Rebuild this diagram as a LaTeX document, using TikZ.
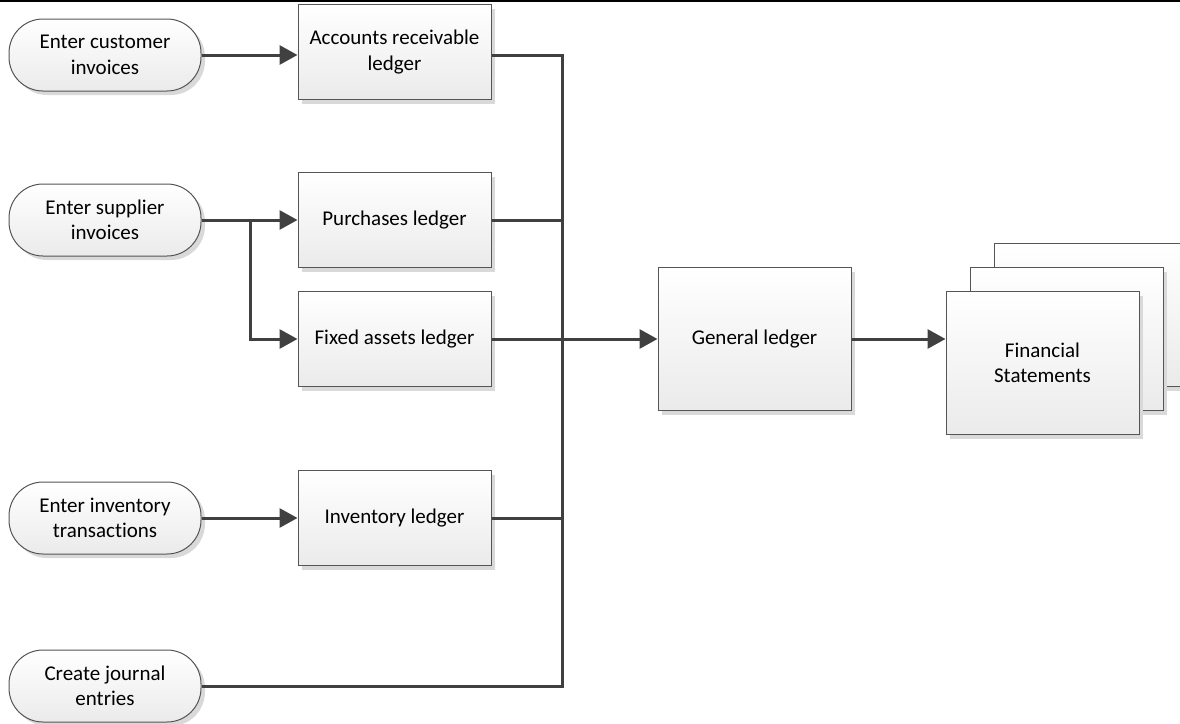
\documentclass[tikz,border=0pt]{standalone}
\usepackage{fontspec}
\setmainfont{Carlito}[Ligatures=NoCommon]
\usetikzlibrary{arrows.meta,shadows}
\definecolor{lc}{HTML}{404040}
\definecolor{bc}{HTML}{555555}
\tikzset{
  base/.style={draw=bc, line width=1pt, top color=white, bottom color=black!8,
    drop shadow={shadow xshift=4pt, shadow yshift=-4pt, fill=black!15, opacity=1},
    align=center, font=\fontsize{21}{25.5}\selectfont, inner sep=0pt},
  pill/.style={base, rounded corners=34pt, minimum width=192pt, minimum height=72pt},
  ledger/.style={base, minimum width=193pt, minimum height=95pt},
  big/.style={base, minimum width=193pt, minimum height=143pt},
  conn/.style={draw=lc, line width=3pt},
  arr/.style={conn, -{Triangle[length=18pt,width=19pt]}}
}
\begin{document}
\begin{tikzpicture}[x=1pt,y=1pt]
\useasboundingbox (0,0) rectangle (1180,-723);
\clip (0,0) rectangle (1180,-723);
\draw[black, line width=2pt] (0,-1) -- (1180,-1);

% pills
\node[pill] (t1) at (105,-55) {Enter customer\\invoices};
\node[pill] (t2) at (105,-220) {Enter supplier\\invoices};
\node[pill] (t3) at (105,-518) {Enter inventory\\transactions};
\node[pill] (t4) at (105,-686) {Create journal\\entries};

% ledgers
\node[ledger] (ar) at (394.5,-52) {Accounts receivable\\ledger};
\node[ledger] (pu) at (394.5,-220) {Purchases ledger};
\node[ledger] (fa) at (394.5,-339) {Fixed assets ledger};
\node[ledger] (inv) at (394.5,-518) {Inventory ledger};

% general ledger
\node[big] (gl) at (754.5,-339) {General ledger};

% financial statements stack
\node[big] (fs3) at (1090.5,-315) {};
\node[big] (fs2) at (1066.5,-339) {};
\node[big] (fs) at (1042.5,-363) {Financial\\Statements};

% bus
\coordinate (bt) at (562,-55);
\coordinate (bb) at (562,-686);
\coordinate (sj) at (250,-220);

\draw[arr] (t1.east) -- (t1.east -| ar.west);
\draw[arr] (t2.east) -- (pu.west);
\draw[arr] (sj) |- (fa.west);
\draw[arr] (t3.east) -- (inv.west);

\draw[conn] (ar.east |- bt) -- (bt) -- (bb) -- (t4.east);
\draw[conn] (pu.east) -- (pu.east -| bt);
\draw[conn] (inv.east) -- (inv.east -| bt);
\draw[arr] (fa.east) -- (gl.west);
\draw[arr] (gl.east) -- (gl.east -| fs.west);
\end{tikzpicture}
\end{document}
